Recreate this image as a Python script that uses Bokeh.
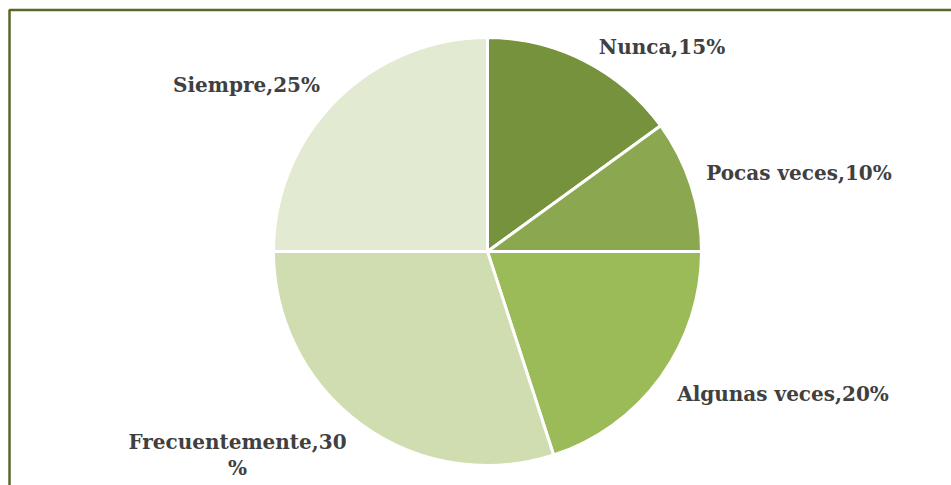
from bokeh.plotting import figure
from bokeh.models import Range1d, ColumnDataSource
from bokeh.core.properties import value
from bokeh.embed import file_html
from bokeh.resources import INLINE
import math

categories = ["Nunca", "Pocas veces", "Algunas veces", "Frecuentemente", "Siempre"]
percents = [15, 10, 20, 30, 25]
colors = ["#76923C", "#8BA750", "#9BBB59", "#CFDDB0", "#E2EAD1"]
label_texts = ["Nunca,15%", "Pocas veces,10%", "Algunas veces,20%", "Frecuentemente,30\n%", "Siempre,25%"]

W, H = 951, 485
p = figure(width=W, height=H, output_backend="svg", toolbar_location=None,
           x_range=Range1d(0, W), y_range=Range1d(0, H), min_border=0)
p.axis.visible = False
p.grid.visible = False
p.outline_line_color = None
p.background_fill_color = "white"
p.border_fill_color = "white"

def px(x):
    return x

def py(y):
    return H - y

cx, cy, r = px(487), py(251), 214
total = sum(percents)
starts, ends = [], []
cum = 0.0
for v in percents:
    a0 = math.pi / 2 - 2 * math.pi * (cum + v) / total
    a1 = math.pi / 2 - 2 * math.pi * cum / total
    starts.append(a0)
    ends.append(a1)
    cum += v

src = ColumnDataSource(dict(start=starts, end=ends, color=colors, cat=categories, pct=percents))
p.wedge(x=cx, y=cy, radius=r, start_angle="start", end_angle="end",
        fill_color="color", line_color="white", line_width=3, source=src)

# label anchor (center x, baseline y of first line) in page pixels
label_pos = [(661.5, 46), (798.5, 172), (782.5, 393), (237, 441), (246, 84)]
tx, ty, tt = [], [], []
for (x, y), lab in zip(label_pos, label_texts):
    for i, line in enumerate(lab.split("\n")):
        tx.append(px(x))
        ty.append(py(y + 26 * i))
        tt.append(line)
p.text(x=tx, y=ty, text=tt, text_font=value("DejaVu Serif"), text_font_style="bold",
       text_font_size="20px", text_color="#404040", text_align="center",
       text_baseline="alphabetic")

# chart frame (only top and left edges are visible in the window)
p.line(x=[px(9), px(9), W + 5], y=[-5, py(9.5), py(9.5)], line_color="#56682C", line_width=2.5)

open("out.html", "w").write(file_html(p, INLINE))
